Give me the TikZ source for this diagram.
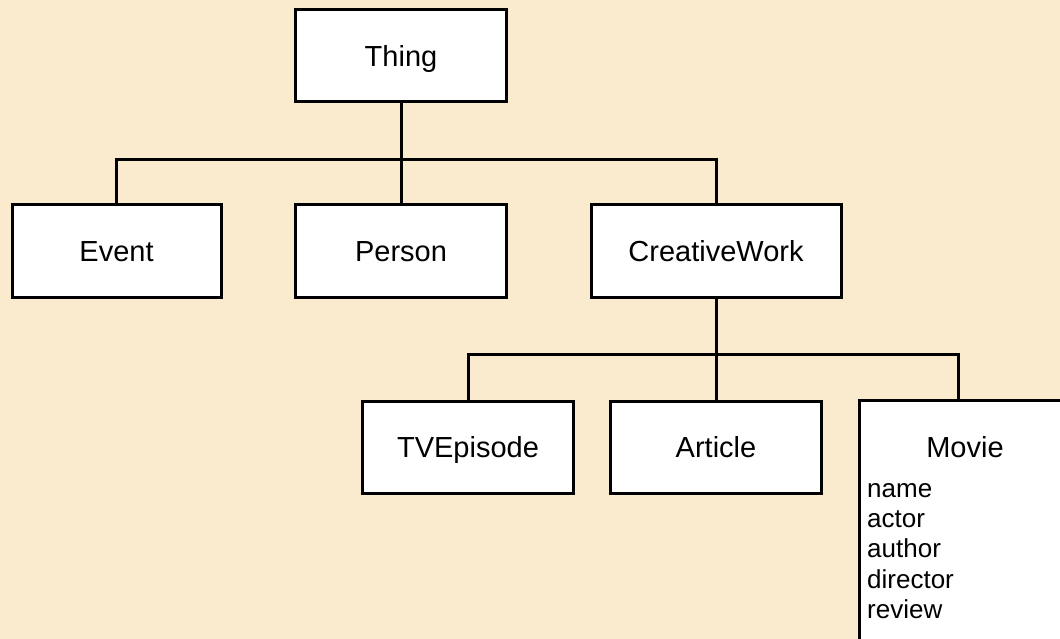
\documentclass[tikz,border=0pt]{standalone}
\usepackage{fontspec}
\setmainfont{Liberation Sans}
\usetikzlibrary{calc}
\definecolor{parchment}{RGB}{250,235,207}
\tikzset{
  box/.style={draw, fill=white, line width=3pt, minimum width=211pt, minimum height=92pt,
    inner sep=0pt, text height=21pt, text depth=0pt, font=\fontsize{29}{34}\selectfont},
  link/.style={line width=3pt},
  prop/.style={inner sep=0pt, anchor=base west, font=\fontsize{26}{30}\selectfont}
}
\begin{document}
\begin{tikzpicture}[x=1pt,y=-1pt]
   \useasboundingbox (0,0) rectangle (1060,639);
   \clip (0,0) rectangle (1060,639);
   \fill[parchment] (0,0) rectangle (1060,639);
   % classes
   \node[box] (thing) at (401,56) {Thing};
   \node[box, minimum width=209pt] (event) at (116.5,251) {Event};
   \node[box] (person) at (401,251) {Person};
   \node[box, minimum width=250pt] (cw) at (716,251) {CreativeWork};
   \node[box] (tv) at (468,447) {TVEpisode};
   \node[box] (article) at (716,447) {Article};
   \node[box, anchor=north west, minimum height=300pt] (movie) at (858,399) {};
   \node[inner sep=0pt, text height=21pt, text depth=0pt, font=\fontsize{29}{34}\selectfont]
      (movietitle) at ($(movie.north)+(0,48)$) {Movie};
   \foreach \name [count=\i from 0] in {name,actor,author,director,review}
      \node[prop] (prop\i) at (867,497+30.4*\i) {\name};
   % tree lines
   \coordinate (split1) at (401,160);
   \coordinate (split2) at (716,354);
   \draw[link] (thing.south) -- (split1);
   \draw[link] (event.north) |- (split1) -| (cw.north);
   \draw[link] (split1) -- (person.north);
   \draw[link] (cw.south) -- (split2);
   \draw[link] (tv.north) |- (split2) -| ([xshift=-6.5pt]movie.north);
   \draw[link] (split2) -- (article.north);
\end{tikzpicture}
\end{document}
